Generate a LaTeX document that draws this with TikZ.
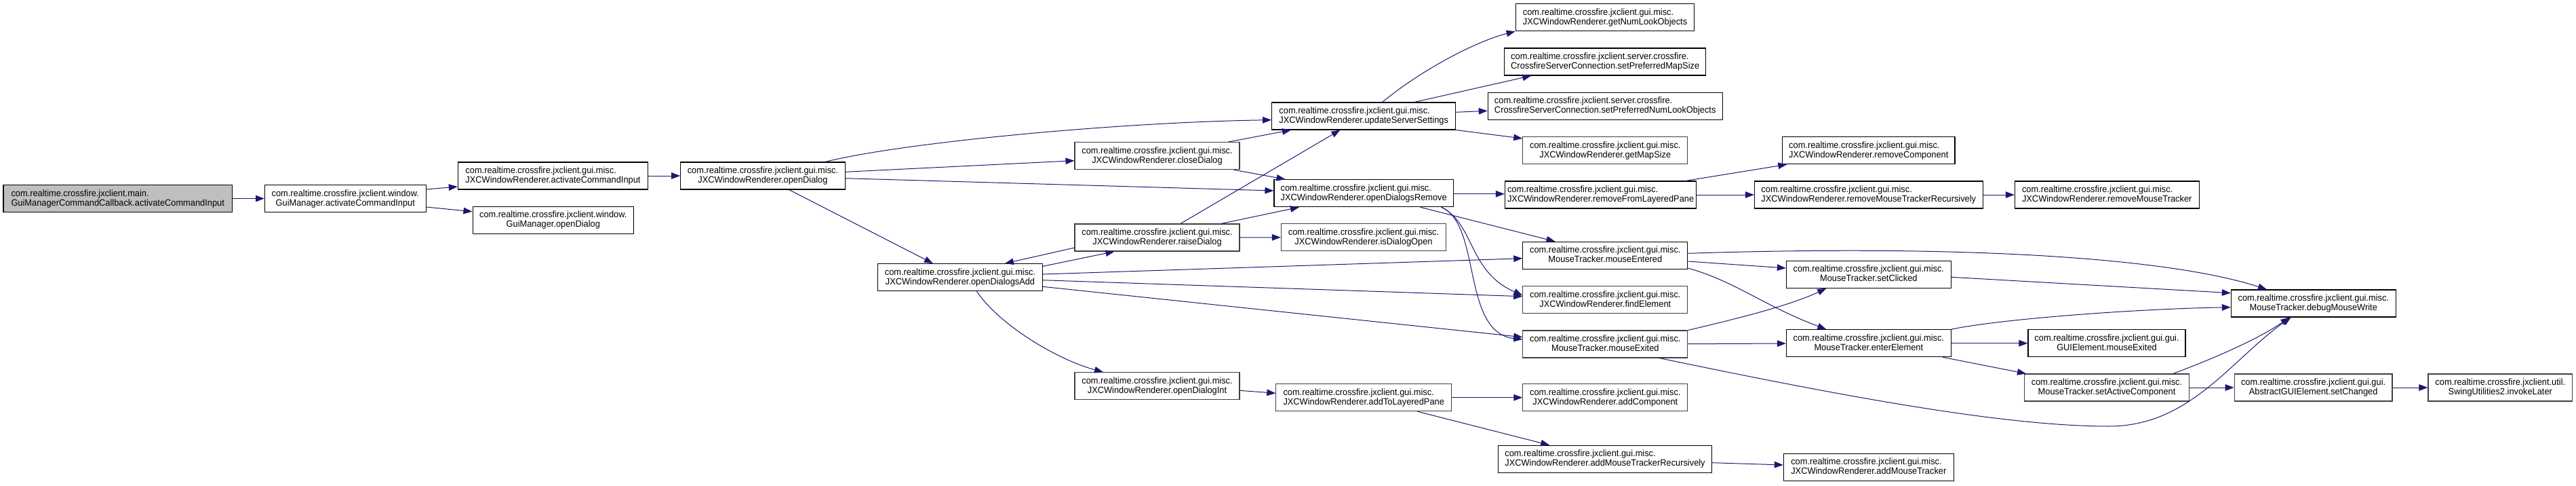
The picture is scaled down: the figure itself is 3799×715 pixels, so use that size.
\documentclass[tikz,border=0pt]{standalone}
\usepackage{fontspec}
\setmainfont{Liberation Sans}[FakeStretch=0.95]
\usetikzlibrary{arrows.meta}
\definecolor{edgecol}{HTML}{191970}
\definecolor{rootfill}{HTML}{BFBFBF}
\definecolor{bordgray}{HTML}{404040}
\newcommand\lbl[2]{%
  \setbox0=\hbox{#1}\setbox2=\hbox{#2}%
  \dimen0=\wd0 \ifdim\wd2>\dimen0 \dimen0=\wd2 \fi
  \vbox{\offinterlineskip
    \hbox to\dimen0{\vrule width0pt height10.5pt depth3.5pt\box0\hfil}%
    \hbox to\dimen0{\vrule width0pt height10.5pt depth3.5pt\hfil\box2\hfil}}}
\begin{document}
\begin{tikzpicture}[x=1pt,y=-1pt,
  box/.style={draw=black, rectangle, inner sep=0pt, minimum height=40pt, line width=1.1pt, fill=white, font=\fontsize{13.5}{14}\selectfont},
  gbox/.style={box, draw=bordgray},
  e/.style={draw=edgecol, line width=1pt, -{Triangle[length=13pt,width=9.5pt]}}]
\useasboundingbox (0,0) rectangle (3799,715);
% column 0-3
\node[box, fill=rootfill, minimum width=337.4pt] (root) at (173.7,292.5) {\lbl{com.realtime.crossfire.jxclient.main.}{GuiManagerCommandCallback.activateCommandInput}};
\node[box, minimum width=237.5pt] (gmaci) at (509.3,292.5) {\lbl{com.realtime.crossfire.jxclient.window.}{GuiManager.activateCommandInput}};
\node[box, minimum width=280.3pt] (jaci) at (815.5,259) {\lbl{com.realtime.crossfire.jxclient.gui.misc.}{JXCWindowRenderer.activateCommandInput}};
\node[box, minimum width=237.5pt] (gmod) at (815.8,324.3) {\lbl{com.realtime.crossfire.jxclient.window.}{GuiManager.openDialog}};
\node[box, minimum width=242.5pt] (od) at (1125,259) {\lbl{com.realtime.crossfire.jxclient.gui.misc.}{JXCWindowRenderer.openDialog}};
% column 4-5
\node[box, minimum width=243pt] (oda) at (1416,408.7) {\lbl{com.realtime.crossfire.jxclient.gui.misc.}{JXCWindowRenderer.openDialogsAdd}};
\node[gbox, minimum width=243pt] (cd) at (1706.5,229.7) {\lbl{com.realtime.crossfire.jxclient.gui.misc.}{JXCWindowRenderer.closeDialog}};
\node[gbox, minimum width=243pt] (rd) at (1706.5,350) {\lbl{com.realtime.crossfire.jxclient.gui.misc.}{JXCWindowRenderer.raiseDialog}};
\node[gbox, minimum width=243pt] (odi) at (1706.5,568.7) {\lbl{com.realtime.crossfire.jxclient.gui.misc.}{JXCWindowRenderer.openDialogInt}};
% column 6
\node[box, minimum width=271pt] (uss) at (2011.2,171) {\lbl{com.realtime.crossfire.jxclient.gui.misc.}{JXCWindowRenderer.updateServerSettings}};
\node[box, minimum width=264.5pt] (odr) at (2011.2,284.7) {\lbl{com.realtime.crossfire.jxclient.gui.misc.}{JXCWindowRenderer.openDialogsRemove}};
\node[gbox, minimum width=243.3pt] (ido) at (2011,349.7) {\lbl{com.realtime.crossfire.jxclient.gui.misc.}{JXCWindowRenderer.isDialogOpen}};
\node[gbox, minimum width=258.7pt] (atlp) at (2011.2,585.7) {\lbl{com.realtime.crossfire.jxclient.gui.misc.}{JXCWindowRenderer.addToLayeredPane}};
% column 7
\node[box, minimum width=263.7pt] (gnlo) at (2367,25.7) {\lbl{com.realtime.crossfire.jxclient.gui.misc.}{JXCWindowRenderer.getNumLookObjects}};
\node[box, minimum width=296.7pt] (spms) at (2367.2,91) {\lbl{com.realtime.crossfire.jxclient.server.crossfire.}{CrossfireServerConnection.setPreferredMapSize}};
\node[box, minimum width=346pt] (spnlo) at (2367.2,156.3) {\lbl{com.realtime.crossfire.jxclient.server.crossfire.}{CrossfireServerConnection.setPreferredNumLookObjects}};
\node[gbox, minimum width=243pt] (gms) at (2367.3,221.7) {\lbl{com.realtime.crossfire.jxclient.gui.misc.}{JXCWindowRenderer.getMapSize}};
\node[box, minimum width=282.4pt] (rflp) at (2360.6,287) {\lbl{com.realtime.crossfire.jxclient.gui.misc.}{JXCWindowRenderer.removeFromLayeredPane}};
\node[box, minimum width=243pt] (me) at (2367.3,376.3) {\lbl{com.realtime.crossfire.jxclient.gui.misc.}{MouseTracker.mouseEntered}};
\node[gbox, minimum width=243pt] (fe) at (2367.3,441.7) {\lbl{com.realtime.crossfire.jxclient.gui.misc.}{JXCWindowRenderer.findElement}};
\node[gbox, minimum width=243pt] (mex) at (2367.3,507) {\lbl{com.realtime.crossfire.jxclient.gui.misc.}{MouseTracker.mouseExited}};
\node[gbox, minimum width=243pt] (ac) at (2367.3,585.7) {\lbl{com.realtime.crossfire.jxclient.gui.misc.}{JXCWindowRenderer.addComponent}};
\node[box, minimum width=315.2pt] (amtr) at (2367,676.3) {\lbl{com.realtime.crossfire.jxclient.gui.misc.}{JXCWindowRenderer.addMouseTrackerRecursively}};
% column 8
\node[box, minimum width=254.4pt] (rc) at (2755.8,221.7) {\lbl{com.realtime.crossfire.jxclient.gui.misc.}{JXCWindowRenderer.removeComponent}};
\node[box, minimum width=336.6pt] (rmtr) at (2755.8,287) {\lbl{com.realtime.crossfire.jxclient.gui.misc.}{JXCWindowRenderer.removeMouseTrackerRecursively}};
\node[box, minimum width=242.8pt] (sc) at (2755.8,404.3) {\lbl{com.realtime.crossfire.jxclient.gui.misc.}{MouseTracker.setClicked}};
\node[box, minimum width=242.8pt] (ee) at (2755.8,505.7) {\lbl{com.realtime.crossfire.jxclient.gui.misc.}{MouseTracker.enterElement}};
\node[box, minimum width=250.9pt] (amt) at (2755.8,688.3) {\lbl{com.realtime.crossfire.jxclient.gui.misc.}{JXCWindowRenderer.addMouseTracker}};
% column 9
\node[box, minimum width=271.7pt] (rmt) at (3107.2,287) {\lbl{com.realtime.crossfire.jxclient.gui.misc.}{JXCWindowRenderer.removeMouseTracker}};
\node[box, minimum width=232pt] (gme) at (3107,505.7) {\lbl{com.realtime.crossfire.jxclient.gui.gui.}{GUIElement.mouseExited}};
\node[gbox, minimum width=242.7pt] (sac) at (3107,571) {\lbl{com.realtime.crossfire.jxclient.gui.misc.}{MouseTracker.setActiveComponent}};
% column 10-11
\node[box, minimum width=243pt] (dmw) at (3411.8,447) {\lbl{com.realtime.crossfire.jxclient.gui.misc.}{MouseTracker.debugMouseWrite}};
\node[gbox, minimum width=232.7pt] (sch) at (3411.6,571) {\lbl{com.realtime.crossfire.jxclient.gui.gui.}{AbstractGUIElement.setChanged}};
\node[gbox, minimum width=212.7pt] (il) at (3687.3,571) {\lbl{com.realtime.crossfire.jxclient.util.}{SwingUtilities2.invokeLater}};
% edges
\draw[e] (root.east) -- (gmaci.west);
\draw[e] (gmaci.east |- 0,279) -- (jaci.west |- 0,275);
\draw[e] (gmaci.east |- 0,305) -- (gmod.west |- 0,311.7);
\draw[e] (jaci.east) -- (od.west);
\draw[e] (od.north -| 1217,0) .. controls (1330,210) and (1650,180) .. (uss.west |- 0,176.7);
\draw[e] (od.east |- 0,253.3) -- (cd.west |- 0,236.7);
\draw[e] (od.east |- 0,262.7) -- (odr.west |- 0,281);
\draw[e] (od.south -| 1163.7,0) -- (oda.north -| 1376,0);
\draw[e] (cd.north -| 1811.4,0) -- (uss.south -| 1904,0);
\draw[e] (cd.south -| 1819.7,0) -- (odr.north -| 1895.6,0);
\draw[e] (rd.north -| 1741,0) -- (uss.south -| 1976.4,0);
\draw[e] (rd.north -| 1801,0) -- (odr.south -| 1916,0);
\draw[e] (rd.east) -- (ido.west);
\draw[e] (rd.west |- 0,365) -- (oda.north -| 1481.9,0);
\draw[e] (oda.east |- 0,392.3) -- (rd.south -| 1643.5,0);
\draw[e] (oda.east |- 0,404) -- (me.west |- 0,380.7);
\draw[e] (oda.east |- 0,412.7) -- (fe.west |- 0,436.7);
\draw[e] (oda.east |- 0,422.3) -- (mex.west |- 0,496.7);
\draw[e] (oda.south -| 1440.4,0) .. controls (1475,480) and (1560,530) .. (odi.north -| 1627,0);
\draw[e] (odr.east |- 0,285.7) -- (rflp.west |- 0,285.7);
\draw[e] (odr.south -| 2094.6,0) -- (me.north -| 2293.5,0);
\draw[e] (odr.south -| 2125.7,0) .. controls (2175,330) and (2165,400) .. (fe.west |- 0,435);
\draw[e] (odr.south -| 2125.7,0) .. controls (2185,330) and (2155,490) .. (mex.west |- 0,500);
\draw[e] (uss.north -| 2038.6,0) .. controls (2100,100) and (2180,60) .. (gnlo.south west);
\draw[e] (uss.north -| 2086,0) -- (spms.south -| 2258.3,0);
\draw[e] (uss.east |- 0,165.3) -- (spnlo.west |- 0,163.3);
\draw[e] (uss.south east) -- (gms.west |- 0,204);
\draw[e] (rflp.north -| 2485.7,0) -- (rc.south -| 2635.3,0);
\draw[e] (rflp.east |- 0,287) -- (rmtr.west |- 0,287);
\draw[e] (rmtr.east) -- (rmt.west);
\draw[e] (me.east |- 0,373.3) .. controls (2900,360) and (3200,380) .. (dmw.north -| 3343,0);
\draw[e] (me.east |- 0,385) -- (sc.west |- 0,395);
\draw[e] (me.east |- 0,395) .. controls (2560,415) and (2600,450) .. (ee.north -| 2693.3,0);
\draw[e] (mex.north east) .. controls (2560,470) and (2640,450) .. (sc.south -| 2693.3,0);
\draw[e] (mex.east |- 0,506.7) -- (ee.west |- 0,506);
\draw[e] (mex.south -| 2447,0) .. controls (2700,580) and (2950,628) .. (3110,628) .. controls (3230,628) and (3290,530) .. (dmw.south -| 3378.6,0);
\draw[e] (sc.east |- 0,408.3) -- (dmw.west |- 0,431.7);
\draw[e] (ee.north east) .. controls (2950,470) and (3150,455) .. (dmw.west |- 0,452.7);
\draw[e] (ee.east) -- (gme.west);
\draw[e] (ee.south -| 2865,0) -- (sac.north -| 2988,0);
\draw[e] (sac.north -| 3204.8,0) .. controls (3260,530) and (3330,500) .. (dmw.south -| 3376.4,0);
\draw[e] (sac.east) -- (sch.west);
\draw[e] (sch.east) -- (il.west);
\draw[e] (odi.east |- 0,575.3) -- (atlp.west |- 0,579.3);
\draw[e] (atlp.east) -- (ac.west);
\draw[e] (atlp.south -| 2090.4,0) -- (amtr.north -| 2285.2,0);
\draw[e] (amtr.east |- 0,681.7) -- (amt.west |- 0,685);
\end{tikzpicture}
\end{document}
